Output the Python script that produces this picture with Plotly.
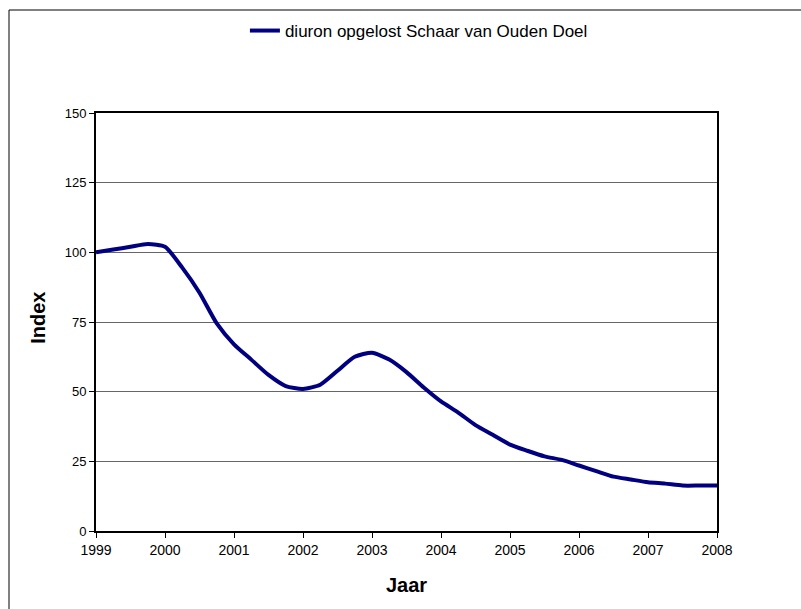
import plotly.graph_objects as go

# quarterly index values (1999 = 100)
years = [1999 + q * 0.25 for q in range(37)]
index_values = [
    100, 101, 102, 103, 102, 94.5, 85.5, 74.5,
    67, 61.5, 56, 52, 51, 52.5, 57.5, 62.5,
    64, 61.5, 57, 51.5, 46.5, 42.5, 38, 34.5,
    31, 28.8, 26.8, 25.5, 23.5, 21.5, 19.5, 18.5,
    17.5, 17, 16.3, 16.3, 16.3,
]
year_ticks = list(range(1999, 2009))
index_ticks = [0, 25, 50, 75, 100, 125, 150]
series_name = "diuron opgelost Schaar van Ouden Doel"

FONT = "Arial, Liberation Sans"
W, H = 801, 609
L, T, PW, PH = 96, 113, 621, 418

fig = go.Figure()
fig.add_trace(go.Scatter(
    x=years, y=index_values, mode="lines", name=series_name,
    line=dict(color="#000080", width=4, shape="spline", smoothing=0.6),
))

axis_common = dict(
    showline=True, linecolor="black", linewidth=2, mirror=True,
    ticks="outside", ticklen=5, tickcolor="black", tickwidth=1,
    zeroline=False,
)

# outer chart frame: only its left and top edges fall inside the picture
fx0 = (9 - L) / PW
fy1 = 1 + (T - 10) / PH
frame = dict(color="black", width=1)

fig.update_layout(
    width=W, height=H,
    margin=dict(l=L, r=W - L - PW, t=T, b=H - T - PH, autoexpand=False),
    paper_bgcolor="white", plot_bgcolor="white",
    font=dict(family=FONT, color="black"),
    showlegend=True,
    legend=dict(
        orientation="h", x=0.52, xanchor="center", y=1 + (T - 31) / PH,
        yanchor="middle", font=dict(size=17), bgcolor="rgba(0,0,0,0)",
    ),
    xaxis=dict(
        range=[1999, 2008], tickvals=year_ticks, showgrid=False,
        tickfont=dict(size=14), **axis_common,
    ),
    yaxis=dict(
        range=[0, 150], tickvals=index_ticks, showgrid=True,
        gridcolor="#666666", gridwidth=1,
        tickfont=dict(size=13), **axis_common,
    ),
    annotations=[
        dict(text="<b>Jaar</b>", xref="paper", yref="paper", x=0.5,
             y=-(585 - T - PH) / PH, xanchor="center", yanchor="middle",
             showarrow=False, font=dict(size=20)),
        dict(text="<b>Index</b>", xref="paper", yref="paper",
             x=(38 - L) / PW, y=0.51, xanchor="center", yanchor="middle",
             textangle=-90, showarrow=False, font=dict(size=20)),
    ],
    shapes=[
        dict(type="line", xref="paper", yref="paper",
             x0=fx0, x1=fx0, y0=-0.4, y1=fy1, line=frame, layer="below"),
        dict(type="line", xref="paper", yref="paper",
             x0=fx0, x1=1.3, y0=fy1, y1=fy1, line=frame, layer="below"),
    ],
)

fig.write_html(
    "out.html",
    config={"displayModeBar": False},
    post_script="document.body.style.margin='0';document.body.style.overflow='hidden';",
)
